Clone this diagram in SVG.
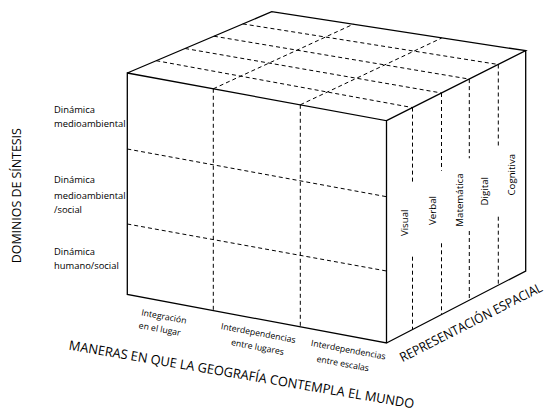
<svg xmlns="http://www.w3.org/2000/svg" width="553" height="412" viewBox="0 0 553 412">
<style>
.edge{fill:none;stroke:#000;stroke-width:1.3;stroke-linejoin:miter}
.dash{fill:none;stroke:#000;stroke-width:1;stroke-dasharray:4 3}
text{font-family:"Open Sans","Liberation Sans",sans-serif;fill:#000}
.lab{font-size:9.4px}
.bot{font-size:8.7px;text-anchor:middle}
.side{font-size:9.7px;text-anchor:middle}
.big{font-size:13px}
</style>
<rect width="553" height="412" fill="#fff"/>
<g id="cube">
<path class="edge" d="M127.3,73 L386.5,120.7 L386.5,343 L127.3,294.5 Z M127.3,73 L271.7,11.7 L525.7,50.7 L386.5,120.7 M525.7,50.7 L525.7,271 L386.5,343"/>
</g>
<g id="grid">
<path class="dash" d="M213.3,88.8 V310.6 M300.3,104.8 V326.9"/>
<path class="dash" d="M127.3,149 L386.5,196.7 M127.3,224 L386.5,271"/>
<path class="dash" d="M412.5,107.6 V184.3 M412.5,256.7 V329.6 M441.5,93 V170.7 M441.5,243.3 V314.6 M469.3,79.1 V158.3 M469.3,231 V300.2 M498.3,64.5 V145.7 M498.3,216.7 V285.2"/>
<path class="dash" d="M156.2,60.7 L412.5,107.6 M185.1,48.5 L441.5,93 M213.9,36.2 L469.3,79.1 M242.8,23.9 L498.3,64.5"/>
<path class="dash" d="M213.3,88.8 L353.3,24.2 M300.3,104.8 L441.7,38"/>
</g>
<g id="dominios">
<text class="big" transform="translate(20.5,195.7) rotate(-90)" text-anchor="middle" textLength="135" lengthAdjust="spacingAndGlyphs">DOMINIOS DE SÍNTESIS</text>
<text class="lab" x="54" y="112.5">Dinámica</text>
<text class="lab" x="54" y="127">medioambiental</text>
<text class="lab" x="54" y="183">Dinámica</text>
<text class="lab" x="54" y="198.5">medioambiental</text>
<text class="lab" x="54" y="213">/social</text>
<text class="lab" x="54" y="254.5">Dinámica</text>
<text class="lab" x="54" y="269">humano/social</text>
</g>
<g id="maneras">
<text class="bot" transform="translate(163.4,319.5) rotate(10.5)">Integración</text>
<text class="bot" transform="translate(159.2,332) rotate(10.5)">en el lugar</text>
<text class="bot" transform="translate(257.8,336) rotate(10.5)">Interdependencias</text>
<text class="bot" transform="translate(257,350) rotate(10.5)">entre lugares</text>
<text class="bot" transform="translate(347.8,352.7) rotate(10.5)">Interdependencias</text>
<text class="bot" transform="translate(342.3,366.5) rotate(10.5)">entre escalas</text>
<text class="big" transform="translate(68.3,349.5) rotate(9.7)" textLength="350" lengthAdjust="spacingAndGlyphs">MANERAS EN QUE LA GEOGRAFÍA CONTEMPLA EL MUNDO</text>
</g>
<g id="representacion">
<text class="side" transform="translate(407.5,222.8) rotate(-90)">Visual</text>
<text class="side" transform="translate(435.5,210.5) rotate(-90)">Verbal</text>
<text class="side" transform="translate(462.5,200) rotate(-90)">Matemática</text>
<text class="side" transform="translate(488,191.2) rotate(-90)">Digital</text>
<text class="side" transform="translate(514.5,174.7) rotate(-90)">Cognitiva</text>
<text class="big" transform="translate(473,326.4) rotate(-27)" text-anchor="middle" textLength="158" lengthAdjust="spacingAndGlyphs">REPRESENTACIÓN ESPACIAL</text>
</g>
</svg>
